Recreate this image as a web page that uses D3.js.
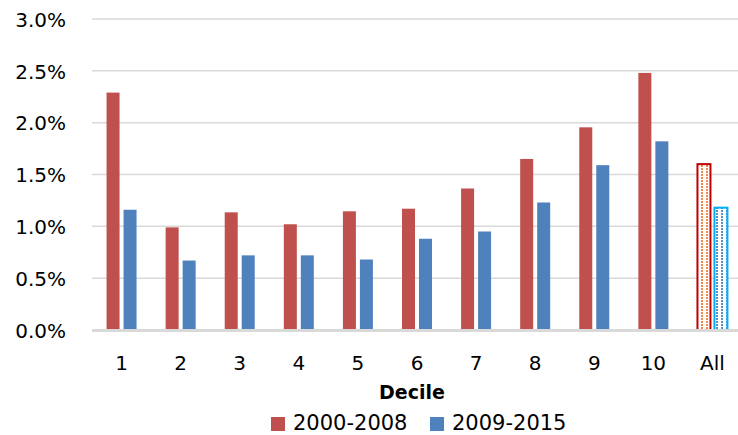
<!DOCTYPE html>
<html>
<head>
<meta charset="utf-8">
<script src="https://cdn.jsdelivr.net/npm/d3@7"></script>
<style>
  body { margin: 0; background: #fff; }
  text { font-family: "DejaVu Sans", sans-serif; fill: #000; }
</style>
</head>
<body>
<div id="chart"></div>
<script>

// data

var deciles = ["1", "2", "3", "4", "5", "6", "7", "8", "9", "10", "All"];
var series = ["2000-2008", "2009-2015"];
var early = [0.0229, 0.0099, 0.01135, 0.0102, 0.01145, 0.0117, 0.01365, 0.0165, 0.01955, 0.0248, 0.0160];
var late = [0.0116, 0.0067, 0.0072, 0.0072, 0.0068, 0.0088, 0.0095, 0.0123, 0.0159, 0.0182, 0.0118];
var yTicks = [0, 0.005, 0.01, 0.015, 0.02, 0.025, 0.03];

var width = 738,
    height = 435;

var fill = ["#C0504D", "#4F81BD"],
    outline = ["#C00000", "#00B0F0"],
    dots = ["#F08A4B", "#5B8FCC"];

var formatPer = d3.format(".1%");

var svg = d3.select("#chart").append("svg")
  .attr("width", width)
  .attr("height", height);

// dotted patterns for the "All" bars

var defs = svg.append("defs");
dots.forEach(function(c, i) {
  var p = defs.append("pattern")
    .attr("id", "dots" + i)
    .attr("patternUnits", "userSpaceOnUse")
    .attr("width", 5)
    .attr("height", 3);
  p.append("rect").attr("width", 5).attr("height", 3).attr("fill", "#fff");
  p.append("rect").attr("x", 1).attr("y", 0).attr("width", 2).attr("height", 2)
    .attr("fill", c);
});

// scales

var x = d3.scaleBand()
  .domain(deciles)
  .range([92, 742])
  .padding(0);

var y = d3.scaleLinear()
  .domain([0, 0.03])
  .range([330, 19]);

// gridlines

svg.append("g")
  .selectAll("line")
  .data(yTicks.slice(1))
  .enter()
    .append("line")
      .attr("x1", 92)
      .attr("x2", width)
      .attr("y1", function(d) { return y(d); })
      .attr("y2", function(d) { return y(d); })
      .attr("stroke", "#d9d9d9")
      .attr("stroke-width", 1.5);

// y axis labels

var yAxis = svg.append("g")
  .attr("transform", "translate(66,0)")
  .call(d3.axisLeft(y).tickValues(yTicks).tickFormat(formatPer).tickSize(0).tickPadding(0));
yAxis.select(".domain").remove();
yAxis.selectAll("text")
  .style("font-size", "20px")
  .attr("dy", "0.36em");

// bars

var bw = 13, off = 8.5;
var groups = [early, late];

groups.forEach(function(vals, s) {
  svg.append("g")
    .selectAll("rect")
    .data(vals)
    .enter()
      .append("rect")
        .attr("x", function(d, i) { return x(deciles[i]) + x.bandwidth() / 2 + (s == 0 ? -off : off) - bw / 2; })
        .attr("y", function(d) { return y(d); })
        .attr("width", bw)
        .attr("height", function(d) { return y(0) - y(d); })
        .attr("fill", function(d, i) { return deciles[i] == "All" ? "url(#dots" + s + ")" : fill[s]; })
        .attr("stroke", function(d, i) { return deciles[i] == "All" ? outline[s] : "none"; })
        .attr("stroke-width", 2);
});

// zero line

svg.append("line")
  .attr("x1", 92)
  .attr("x2", width)
  .attr("y1", y(0) + 0.5)
  .attr("y2", y(0) + 0.5)
  .attr("stroke", "#d9d9d9")
  .attr("stroke-width", 3);

// x axis labels

var xAxis = svg.append("g")
  .attr("transform", "translate(0,356)")
  .call(d3.axisBottom(x).tickSize(0).tickPadding(0));
xAxis.select(".domain").remove();
xAxis.selectAll("text")
  .style("font-size", "20px")
  .attr("dy", "0.72em");

svg.append("text")
  .attr("x", 412)
  .attr("y", 399)
  .attr("text-anchor", "middle")
  .style("font-size", "19px")
  .style("font-weight", "bold")
  .text("Decile");

// legend

var legend = svg.append("g")
  .selectAll("g")
  .data(series)
  .enter()
    .append("g")
      .attr("transform", function(d, i) { return "translate(" + (271 + i * 159) + ",0)"; });

legend.append("rect")
  .attr("y", 417)
  .attr("width", 14)
  .attr("height", 14)
  .attr("fill", function(d, i) { return fill[i]; });

legend.append("text")
  .attr("x", 22)
  .attr("y", 430)
  .style("font-size", "21px")
  .text(function(d) { return d; });

</script>
</body>
</html>
